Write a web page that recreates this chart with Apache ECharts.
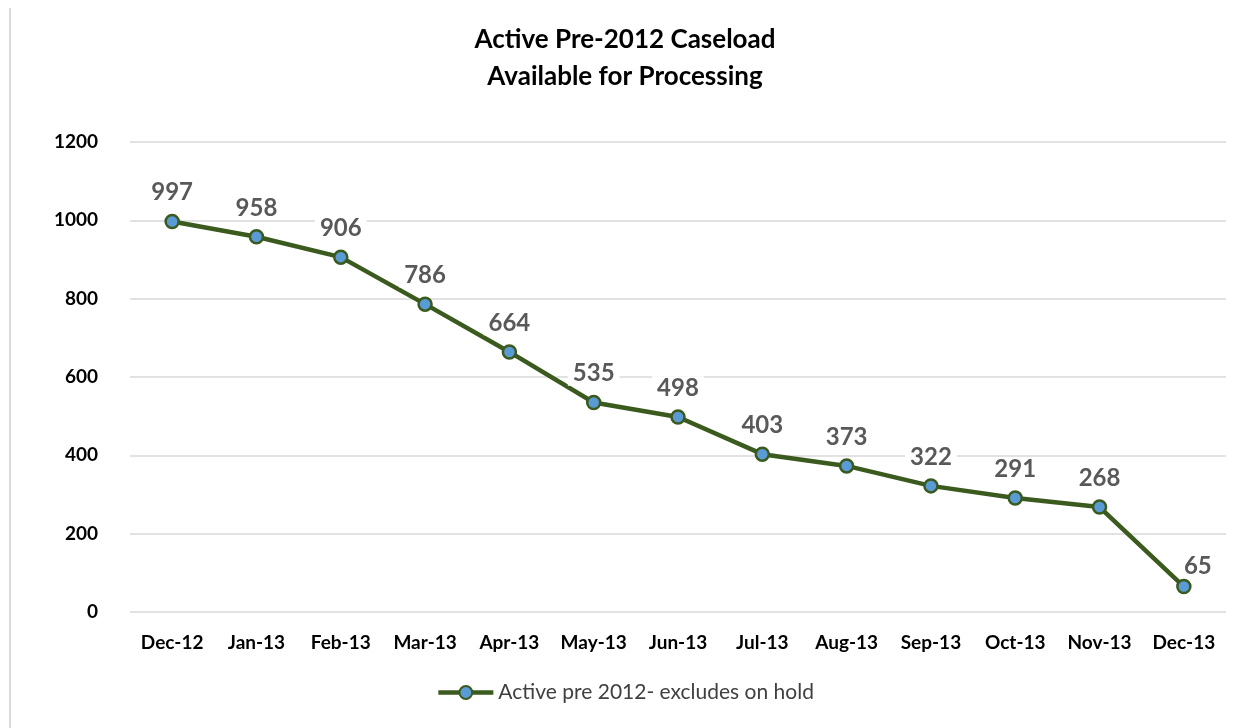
<!DOCTYPE html>
<html><head><meta charset="utf-8">
<script src="https://cdn.jsdelivr.net/npm/echarts@6/dist/echarts.min.js"></script>
<style>html,body{margin:0;padding:0;background:#fff}#c{width:1250px;height:728px}</style>
</head><body><div id="c"></div>
<script>
const categories = ['Dec-12','Jan-13','Feb-13','Mar-13','Apr-13','May-13','Jun-13','Jul-13','Aug-13','Sep-13','Oct-13','Nov-13','Dec-13'];
const values = [997, 958, 906, 786, 664, 535, 498, 403, 373, 322, 291, 268, 65];
const yTicks = [0, 200, 400, 600, 800, 1000, 1200];
const seriesName = 'Active pre 2012- excludes on hold';
const titleLines = ['Active Pre-2012 Caseload', 'Available for Processing'];

const chart = echarts.init(document.getElementById('c'));
const font = 'Lato, "Open Sans", sans-serif';
const data = values.map((v, i) => {
  const d = { value: v };
  if (i === values.length - 1) {
    d.label = { offset: [14, 8] };
  }
  return d;
});
chart.setOption({
  animation: false,
  textStyle: { fontFamily: font },
  graphic: [{
    type: 'line', shape: { x1: 10, y1: 8, x2: 10, y2: 728 },
    style: { stroke: '#d9d9d9', lineWidth: 2 }
  }],
  title: {
    text: titleLines.join('\n'),
    left: 'center', top: 16,
    textStyle: { fontFamily: font, fontSize: 26, fontWeight: 'bold', color: '#000', lineHeight: 37 }
  },
  legend: {
    bottom: 20, left: 'center',
    itemWidth: 55, itemHeight: 16, itemGap: 8,
    lineStyle: { width: 4.5 },
    textStyle: { fontFamily: font, fontSize: 21, color: '#404040' },
    data: [seriesName]
  },
  grid: { left: 130, right: 24, top: 142, bottom: 116, containLabel: false },
  xAxis: {
    type: 'category', data: categories, boundaryGap: true,
    axisLine: { show: false }, axisTick: { show: false },
    axisLabel: { fontFamily: font, fontSize: 19, fontWeight: 'bold', color: '#000', margin: 21, interval: 0 }
  },
  yAxis: {
    type: 'value', min: yTicks[0], max: yTicks[yTicks.length - 1], interval: 200,
    axisLine: { show: false }, axisTick: { show: false },
    axisLabel: { fontFamily: font, fontSize: 19, fontWeight: 'bold', color: '#000', margin: 32,
      formatter: v => String(v) },
    splitLine: { lineStyle: { color: '#d9d9d9', width: 1.5 } }
  },
  series: [{
    name: seriesName, type: 'line', data: data,
    symbol: 'circle', symbolSize: 13,
    lineStyle: { color: '#3a5a1e', width: 4.5 },
    itemStyle: { color: '#5b9bd5', borderColor: '#3a5a1e', borderWidth: 2.5 },
    label: {
      show: true, position: 'top', distance: 9,
      fontFamily: font, fontSize: 24, fontWeight: 'bold', color: '#595959',
      backgroundColor: '#fff', padding: [0, 5]
    },
    z: 3
  }]
});
</script></body></html>
